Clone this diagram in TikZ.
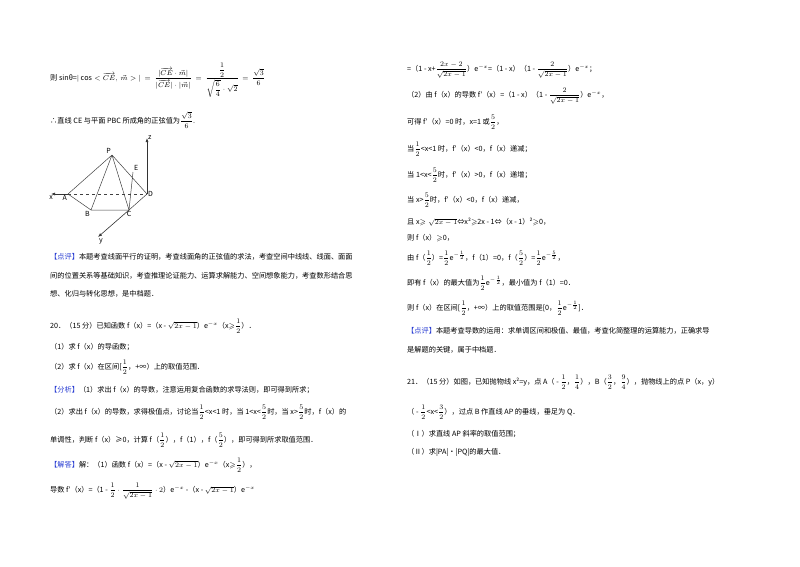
\documentclass[tikz,border=0pt]{standalone}
\usepackage{amsmath,amssymb}
\usepackage{fontspec}
\setmainfont{Noto Sans CJK SC}
\usetikzlibrary{arrows.meta}
\definecolor{hl}{RGB}{40,60,210}
\newcommand{\fr}[2]{$\dfrac{#1}{#2}$}
\newcommand{\hb}[1]{\textcolor{hl}{【#1】}}
\tikzset{ln/.style={anchor=west,inner sep=0pt,font=\fontsize{7.2}{9}\selectfont},
 edge/.style={draw=black!75,line width=0.5pt},
 axis/.style={draw=black!80,line width=0.6pt,-{Latex[length=4pt,width=3pt]}},
 lbl/.style={font=\fontsize{7}{8}\selectfont\itshape,inner sep=1pt}}
\begin{document}
\begin{tikzpicture}[x=1pt,y=-1pt]
\useasboundingbox (0,0) rectangle (800,566);
% left column
\node[ln] (l1) at (50,80) {则 sinθ=$|\cos<\overrightarrow{CE},\ \vec{m}>|\,=\,\dfrac{|\overrightarrow{CE}\cdot\vec{m}|}{|\overrightarrow{CE}|\cdot|\vec{m}|}\,=\,\dfrac{\dfrac12}{\sqrt{\dfrac64}\cdot\sqrt2}\,=\,\dfrac{\sqrt3}{6}$};
\node[ln] (l2) at (50,120) {∴直线 CE 与平面 PBC 所成角的正弦值为$\dfrac{\sqrt3}{6}$.};
% figure
\coordinate (P) at (112,155);
\coordinate (E) at (133,172);
\coordinate (A) at (68,194);
\coordinate (B) at (91,210);
\coordinate (C) at (129,210);
\coordinate (D) at (147,194);
\coordinate (Z) at (147,138);
\coordinate (X) at (51,194);
\coordinate (Y) at (98,237);
\draw[edge] (P)--(A) (P)--(B) (P)--(C) (P)--(D) (A)--(B)--(C)--(D) (E)--(C);
\draw[edge,dashed] (A)--(D);
\draw[axis] (D)--(Z);
\draw[axis] (A)--(X);
\draw[axis] (C)--(Y);
\node[lbl,above left] (nP) at (P) {P};
\node[lbl,above right] (nE) at (E) {E};
\node[lbl,below left] (nA) at (A) {A};
\node[lbl,below left] (nB) at (B) {B};
\node[lbl,below] (nC) at (C) {C};
\node[lbl,right] (nD) at (D) {D};
\node[lbl,right] (nz) at (Z) {z};
\node[lbl,below] (nx) at (X) {x};
\node[lbl,below right] (ny) at (Y) {y};
\node[ln] (l3) at (50,257) {\hb{点评}本题考查线面平行的证明，考查线面角的正弦值的求法，考查空间中线线、线面、面面};
\node[ln] (l4) at (50,276) {间的位置关系等基础知识，考查推理论证能力、运算求解能力、空间想象能力，考查数形结合思};
\node[ln] (l5) at (50,294) {想、化归与转化思想，是中档题．};
\node[ln] (l6) at (50,326) {20．（15 分）已知函数 f（x）=（x - $\sqrt{2x-1}$）e$^{-x}$（x$\geqslant$\fr12）．};
\node[ln] (l7) at (50,347) {（1）求 f（x）的导函数；};
\node[ln] (l8) at (50,367) {（2）求 f（x）在区间[\fr12，+∞）上的取值范围．};
\node[ln] (l9) at (50,390) {\hb{分析}（1）求出 f（x）的导数，注意运用复合函数的求导法则，即可得到所求；};
\node[ln] (l10) at (50,412) {（2）求出 f（x）的导数，求得极值点，讨论当\fr12<x<1 时，当 1<x<\fr52时，当 x>\fr52时，f（x）的};
\node[ln] (l11) at (50,440) {单调性，判断 f（x）≥0，计算 f（\fr12），f（1），f（\fr52），即可得到所求取值范围．};
\node[ln] (l12) at (50,465) {\hb{解答}解：（1）函数 f（x）=（x - $\sqrt{2x-1}$）e$^{-x}$（x$\geqslant$\fr12），};
\node[ln] (l13) at (50,491) {导数 f′（x）=（1 - $\dfrac12\cdot\dfrac{1}{\sqrt{2x-1}}\cdot2$）e$^{-x}$ -（x - $\sqrt{2x-1}$）e$^{-x}$};
% right column
\node[ln] (r1) at (407,70) {=（1 - x+\fr{2x-2}{\sqrt{2x-1}}）e$^{-x}$=（1 - x）（1 - \fr{2}{\sqrt{2x-1}}）e$^{-x}$；};
\node[ln] (r2) at (407,96) {（2）由 f（x）的导数 f′（x）=（1 - x）（1 - \fr{2}{\sqrt{2x-1}}）e$^{-x}$，};
\node[ln] (r3) at (407,122) {可得 f′（x）=0 时，x=1 或\fr52，};
\node[ln] (r4) at (407,149) {当\fr12<x<1 时，f′（x）<0，f（x）递减；};
\node[ln] (r5) at (407,175) {当 1<x<\fr52时，f′（x）>0，f（x）递增；};
\node[ln] (r6) at (407,200) {当 x>\fr52时，f′（x）<0，f（x）递减，};
\node[ln] (r7) at (407,222) {且 x$\geqslant\sqrt{2x-1}$⇔x²$\geqslant$2x - 1⇔（x - 1）²$\geqslant$0，};
\node[ln] (r8) at (407,238) {则 f（x）$\geqslant$0，};
\node[ln] (r9) at (407,258) {由 f（\fr12）=\fr12e$^{-\frac12}$，f（1）=0，f（\fr52）=\fr12e$^{-\frac52}$，};
\node[ln] (r10) at (407,283) {即有 f（x）的最大值为\fr12e$^{-\frac12}$，最小值为 f（1）=0．};
\node[ln] (r11) at (407,308) {则 f（x）在区间[\fr12，+∞）上的取值范围是[0，\fr12e$^{-\frac12}$]．};
\node[ln] (r12) at (407,331) {\hb{点评}本题考查导数的运用：求单调区间和极值、最值，考查化简整理的运算能力，正确求导};
\node[ln] (r13) at (407,350) {是解题的关键，属于中档题．};
\node[ln] (r14) at (407,382) {21．（15 分）如图，已知抛物线 x²=y，点 A（ - \fr12，\fr14），B（\fr32，\fr94），抛物线上的点 P（x，y）};
\node[ln] (r15) at (407,412) {（ - \fr12<x<\fr32），过点 B 作直线 AP 的垂线，垂足为 Q．};
\node[ln] (r16) at (407,434) {（Ⅰ）求直线 AP 斜率的取值范围；};
\node[ln] (r17) at (407,452) {（Ⅱ）求|PA|•|PQ|的最大值．};
\end{tikzpicture}
\end{document}
